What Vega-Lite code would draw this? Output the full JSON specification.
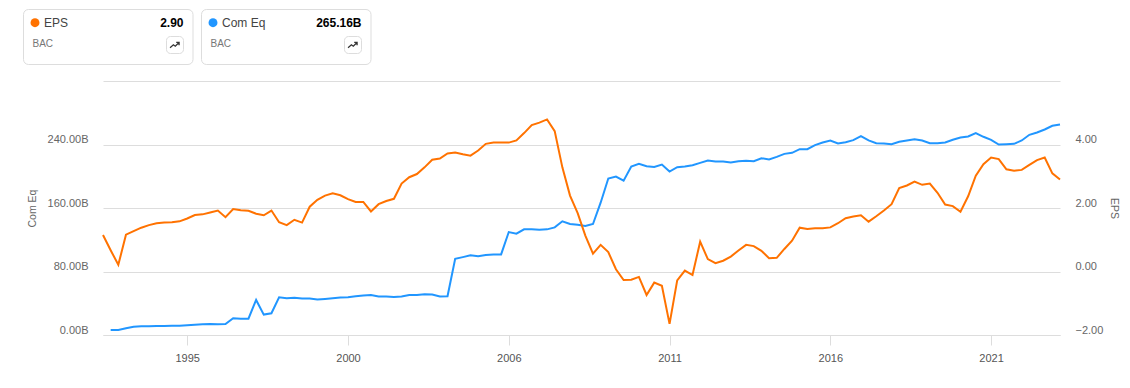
{"$schema":"https://vega.github.io/schema/vega-lite/v6.json","padding":{"left":23,"top":9,"right":5,"bottom":0},"background":"white","config":{"font":"Liberation Sans","view":{"stroke":null}},"spacing":16,"vconcat":[{"width":268,"height":55,"data":{"values":[{"series":"EPS","ticker":"BAC","latest":"2.90"},{"series":"Com Eq","ticker":"BAC","latest":"265.16B"}]},"layer":[{"transform":[{"filter":"datum.series=='EPS'"}],"layer":[{"mark":{"type":"rect","fill":"white","stroke":"#dddddd","cornerRadius":5},"encoding":{"x":{"datum":0.5,"type":"quantitative","scale":{"domain":[80,348],"nice":false,"zero":false},"axis":null},"x2":{"datum":170},"y":{"datum":0.5,"type":"quantitative","scale":{"domain":[55,0],"nice":false},"axis":null},"y2":{"datum":55.5}}},{"mark":{"type":"point","filled":true,"color":"#FF7200","opacity":1},"encoding":{"x":{"datum":12,"type":"quantitative"},"y":{"datum":13.7,"type":"quantitative"},"size":{"value":80},"shape":{"value":"circle"}}},{"mark":{"type":"text","align":"left","baseline":"middle","fontSize":12,"color":"#444444"},"encoding":{"x":{"datum":21,"type":"quantitative"},"y":{"datum":14.2,"type":"quantitative"},"text":{"field":"series"}}},{"mark":{"type":"text","align":"right","baseline":"middle","fontSize":12,"fontWeight":"bold","color":"#000000"},"encoding":{"x":{"datum":160.5,"type":"quantitative"},"y":{"datum":14.2,"type":"quantitative"},"text":{"field":"latest"}}},{"mark":{"type":"text","align":"left","baseline":"middle","fontSize":10,"color":"#777777"},"encoding":{"x":{"datum":9.5,"type":"quantitative"},"y":{"datum":35,"type":"quantitative"},"text":{"field":"ticker"}}},{"mark":{"type":"rect","fill":"white","stroke":"#dddddd","cornerRadius":4},"encoding":{"x":{"datum":143.5,"type":"quantitative"},"x2":{"datum":160.5},"y":{"datum":27.5,"type":"quantitative"},"y2":{"datum":44.5}}},{"mark":{"type":"point","filled":false,"color":"#333333","strokeWidth":1.3,"opacity":1,"shape":"M-1,0.6L-0.3,0L0.1,0.3L0.9,-0.5M0.3,-0.5L0.9,-0.5L0.9,0.1","size":90},"encoding":{"x":{"datum":151.8,"type":"quantitative"},"y":{"datum":35.8,"type":"quantitative"}}}]},{"transform":[{"filter":"datum.series=='Com Eq'"}],"layer":[{"mark":{"type":"rect","fill":"white","stroke":"#dddddd","cornerRadius":5},"encoding":{"x":{"datum":178.5,"type":"quantitative"},"x2":{"datum":348},"y":{"datum":0.5,"type":"quantitative"},"y2":{"datum":55.5}}},{"mark":{"type":"point","filled":true,"color":"#2196FF","opacity":1},"encoding":{"x":{"datum":190,"type":"quantitative"},"y":{"datum":13.7,"type":"quantitative"},"size":{"value":80},"shape":{"value":"circle"}}},{"mark":{"type":"text","align":"left","baseline":"middle","fontSize":12,"color":"#444444"},"encoding":{"x":{"datum":199,"type":"quantitative"},"y":{"datum":14.2,"type":"quantitative"},"text":{"field":"series"}}},{"mark":{"type":"text","align":"right","baseline":"middle","fontSize":12,"fontWeight":"bold","color":"#000000"},"encoding":{"x":{"datum":338.5,"type":"quantitative"},"y":{"datum":14.2,"type":"quantitative"},"text":{"field":"latest"}}},{"mark":{"type":"text","align":"left","baseline":"middle","fontSize":10,"color":"#777777"},"encoding":{"x":{"datum":187.5,"type":"quantitative"},"y":{"datum":35,"type":"quantitative"},"text":{"field":"ticker"}}},{"mark":{"type":"rect","fill":"white","stroke":"#dddddd","cornerRadius":4},"encoding":{"x":{"datum":321.5,"type":"quantitative"},"x2":{"datum":338.5},"y":{"datum":27.5,"type":"quantitative"},"y2":{"datum":44.5}}},{"mark":{"type":"point","filled":false,"color":"#333333","strokeWidth":1.3,"opacity":1,"shape":"M-1,0.6L-0.3,0L0.1,0.3L0.9,-0.5M0.3,-0.5L0.9,-0.5L0.9,0.1","size":90},"encoding":{"x":{"datum":329.8,"type":"quantitative"},"y":{"datum":35.8,"type":"quantitative"}}}]}]},{"width":957,"height":254,"data":{"values":[{"q":"1992-Q4","eps":1.15,"ceq":null},{"q":"1993-Q1","eps":0.67,"ceq":6.3},{"q":"1993-Q2","eps":0.21,"ceq":6.3},{"q":"1993-Q3","eps":1.16,"ceq":8.4},{"q":"1993-Q4","eps":1.27,"ceq":10.5},{"q":"1994-Q1","eps":1.38,"ceq":10.9},{"q":"1994-Q2","eps":1.46,"ceq":10.9},{"q":"1994-Q3","eps":1.52,"ceq":11.2},{"q":"1994-Q4","eps":1.54,"ceq":11.2},{"q":"1995-Q1","eps":1.55,"ceq":11.6},{"q":"1995-Q2","eps":1.58,"ceq":11.8},{"q":"1995-Q3","eps":1.67,"ceq":12.2},{"q":"1995-Q4","eps":1.78,"ceq":12.8},{"q":"1996-Q1","eps":1.8,"ceq":13.5},{"q":"1996-Q2","eps":1.86,"ceq":13.9},{"q":"1996-Q3","eps":1.92,"ceq":13.7},{"q":"1996-Q4","eps":1.71,"ceq":13.9},{"q":"1997-Q1","eps":1.97,"ceq":21.1},{"q":"1997-Q2","eps":1.93,"ceq":20.6},{"q":"1997-Q3","eps":1.91,"ceq":20.6},{"q":"1997-Q4","eps":1.82,"ceq":44.2},{"q":"1998-Q1","eps":1.77,"ceq":25.7},{"q":"1998-Q2","eps":1.92,"ceq":27.4},{"q":"1998-Q3","eps":1.55,"ceq":47.6},{"q":"1998-Q4","eps":1.46,"ceq":46.3},{"q":"1999-Q1","eps":1.63,"ceq":46.9},{"q":"1999-Q2","eps":1.54,"ceq":45.9},{"q":"1999-Q3","eps":2.04,"ceq":46.1},{"q":"1999-Q4","eps":2.26,"ceq":44.6},{"q":"2000-Q1","eps":2.39,"ceq":45.5},{"q":"2000-Q2","eps":2.46,"ceq":46.3},{"q":"2000-Q3","eps":2.4,"ceq":47.2},{"q":"2000-Q4","eps":2.28,"ceq":47.6},{"q":"2001-Q1","eps":2.19,"ceq":48.8},{"q":"2001-Q2","eps":2.19,"ceq":49.7},{"q":"2001-Q3","eps":1.89,"ceq":50.3},{"q":"2001-Q4","eps":2.12,"ceq":48.6},{"q":"2002-Q1","eps":2.22,"ceq":48.4},{"q":"2002-Q2","eps":2.29,"ceq":48.0},{"q":"2002-Q3","eps":2.77,"ceq":48.4},{"q":"2002-Q4","eps":2.97,"ceq":50.5},{"q":"2003-Q1","eps":3.07,"ceq":50.5},{"q":"2003-Q2","eps":3.28,"ceq":51.4},{"q":"2003-Q3","eps":3.52,"ceq":50.9},{"q":"2003-Q4","eps":3.56,"ceq":48.4},{"q":"2004-Q1","eps":3.72,"ceq":48.8},{"q":"2004-Q2","eps":3.75,"ceq":96.0},{"q":"2004-Q3","eps":3.69,"ceq":98.1},{"q":"2004-Q4","eps":3.65,"ceq":100.4},{"q":"2005-Q1","eps":3.81,"ceq":99.2},{"q":"2005-Q2","eps":4.02,"ceq":100.8},{"q":"2005-Q3","eps":4.06,"ceq":101.5},{"q":"2005-Q4","eps":4.06,"ceq":101.5},{"q":"2006-Q1","eps":4.06,"ceq":129.7},{"q":"2006-Q2","eps":4.13,"ceq":127.6},{"q":"2006-Q3","eps":4.36,"ceq":133.1},{"q":"2006-Q4","eps":4.61,"ceq":133.1},{"q":"2007-Q1","eps":4.69,"ceq":132.6},{"q":"2007-Q2","eps":4.79,"ceq":133.1},{"q":"2007-Q3","eps":4.42,"ceq":135.6},{"q":"2007-Q4","eps":3.28,"ceq":143.2},{"q":"2008-Q1","eps":2.39,"ceq":139.8},{"q":"2008-Q2","eps":1.84,"ceq":138.9},{"q":"2008-Q3","eps":1.13,"ceq":137.3},{"q":"2008-Q4","eps":0.56,"ceq":139.8},{"q":"2009-Q1","eps":0.84,"ceq":166.7},{"q":"2009-Q2","eps":0.61,"ceq":197.1},{"q":"2009-Q3","eps":0.07,"ceq":199.6},{"q":"2009-Q4","eps":-0.27,"ceq":194.5},{"q":"2010-Q1","eps":-0.26,"ceq":212.2},{"q":"2010-Q2","eps":-0.17,"ceq":215.6},{"q":"2010-Q3","eps":-0.74,"ceq":212.6},{"q":"2010-Q4","eps":-0.35,"ceq":211.8},{"q":"2011-Q1","eps":-0.45,"ceq":214.7},{"q":"2011-Q2","eps":-1.65,"ceq":205.9},{"q":"2011-Q3","eps":-0.28,"ceq":211.4},{"q":"2011-Q4","eps":0.03,"ceq":212.2},{"q":"2012-Q1","eps":-0.11,"ceq":213.9},{"q":"2012-Q2","eps":0.94,"ceq":216.8},{"q":"2012-Q3","eps":0.39,"ceq":219.8},{"q":"2012-Q4","eps":0.26,"ceq":218.5},{"q":"2013-Q1","eps":0.34,"ceq":218.5},{"q":"2013-Q2","eps":0.47,"ceq":217.3},{"q":"2013-Q3","eps":0.66,"ceq":218.9},{"q":"2013-Q4","eps":0.84,"ceq":219.4},{"q":"2014-Q1","eps":0.8,"ceq":218.9},{"q":"2014-Q2","eps":0.65,"ceq":222.7},{"q":"2014-Q3","eps":0.42,"ceq":221.1},{"q":"2014-Q4","eps":0.43,"ceq":224.4},{"q":"2015-Q1","eps":0.71,"ceq":228.2},{"q":"2015-Q2","eps":0.97,"ceq":229.5},{"q":"2015-Q3","eps":1.38,"ceq":234.1},{"q":"2015-Q4","eps":1.34,"ceq":234.1},{"q":"2016-Q1","eps":1.36,"ceq":239.2},{"q":"2016-Q2","eps":1.36,"ceq":242.5},{"q":"2016-Q3","eps":1.39,"ceq":245.1},{"q":"2016-Q4","eps":1.52,"ceq":241.3},{"q":"2017-Q1","eps":1.68,"ceq":242.9},{"q":"2017-Q2","eps":1.73,"ceq":245.5},{"q":"2017-Q3","eps":1.77,"ceq":250.5},{"q":"2017-Q4","eps":1.57,"ceq":245.1},{"q":"2018-Q1","eps":1.74,"ceq":241.7},{"q":"2018-Q2","eps":1.92,"ceq":241.3},{"q":"2018-Q3","eps":2.12,"ceq":240.4},{"q":"2018-Q4","eps":2.63,"ceq":243.4},{"q":"2019-Q1","eps":2.71,"ceq":245.1},{"q":"2019-Q2","eps":2.83,"ceq":246.7},{"q":"2019-Q3","eps":2.73,"ceq":245.1},{"q":"2019-Q4","eps":2.77,"ceq":241.7},{"q":"2020-Q1","eps":2.48,"ceq":241.7},{"q":"2020-Q2","eps":2.11,"ceq":242.5},{"q":"2020-Q3","eps":2.06,"ceq":245.9},{"q":"2020-Q4","eps":1.88,"ceq":248.8},{"q":"2021-Q1","eps":2.37,"ceq":250.1},{"q":"2021-Q2","eps":3.02,"ceq":254.3},{"q":"2021-Q3","eps":3.38,"ceq":249.7},{"q":"2021-Q4","eps":3.59,"ceq":245.9},{"q":"2022-Q1","eps":3.54,"ceq":240.0},{"q":"2022-Q2","eps":3.22,"ceq":240.4},{"q":"2022-Q3","eps":3.17,"ceq":240.8},{"q":"2022-Q4","eps":3.2,"ceq":245.1},{"q":"2023-Q1","eps":3.36,"ceq":252.2},{"q":"2023-Q2","eps":3.51,"ceq":255.2},{"q":"2023-Q3","eps":3.59,"ceq":258.9},{"q":"2023-Q4","eps":3.09,"ceq":263.6},{"q":"2024-Q1","eps":2.9,"ceq":265.16}]},"encoding":{"x":{"field":"q","type":"ordinal","title":null,"scale":{"type":"point","padding":0},"axis":{"values":["1995-Q3","2000-Q4","2006-Q1","2011-Q2","2016-Q3","2021-Q4"],"labelExpr":"substring(datum.label,0,4)","labelAngle":0,"domainColor":"#dddddd","tickColor":"#dddddd","tickSize":10,"labelColor":"#555555","labelFontSize":11,"labelPadding":7}}},"layer":[{"mark":{"type":"line","color":"#2196FF","strokeWidth":2},"encoding":{"y":{"field":"ceq","type":"quantitative","scale":{"domain":[0,320],"nice":false},"axis":{"orient":"left","title":"Com Eq","values":[0,80,160,240,320],"labelExpr":"datum.value>=320?'':format(datum.value,'.2f')+'B'","grid":true,"gridColor":"#dddddd","domain":false,"ticks":false,"labelPadding":15,"labelOffset":-5,"labelColor":"#666666","labelFontSize":11,"titleColor":"#666666","titleFontSize":10.5,"titleFontWeight":"normal","titlePadding":10}}}},{"mark":{"type":"line","color":"#FF7200","strokeWidth":2},"encoding":{"y":{"field":"eps","type":"quantitative","scale":{"domain":[-2,6],"nice":false},"axis":{"orient":"right","title":"EPS","values":[-2,0,2,4],"format":".2f","grid":false,"domain":false,"ticks":false,"labelPadding":15,"labelOffset":-5,"labelColor":"#666666","labelFontSize":11,"titleColor":"#666666","titleFontSize":10.5,"titleFontWeight":"normal","titlePadding":6}}}}],"resolve":{"scale":{"y":"independent"}}}]}
